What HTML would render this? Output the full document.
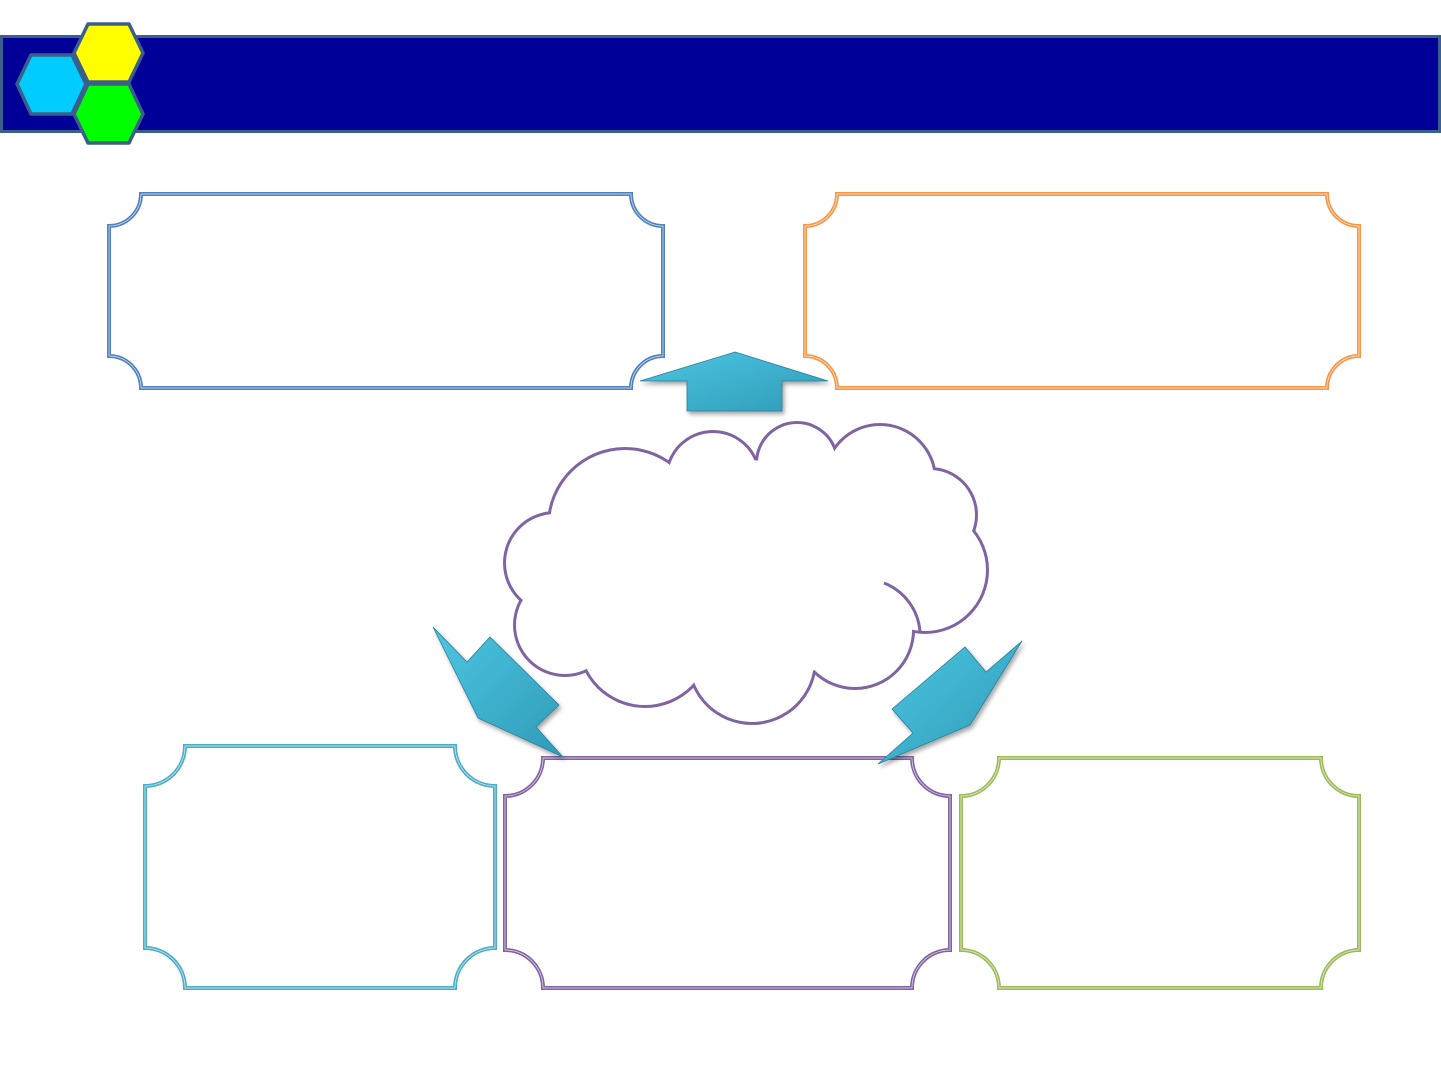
<!DOCTYPE html>
<html><head><meta charset="utf-8"><style>html,body{margin:0;padding:0;background:#fff}svg{display:block}</style></head>
<body>
<svg width="1441" height="1081" viewBox="0 0 1441 1081" xmlns="http://www.w3.org/2000/svg">
<defs>
<linearGradient id="ag" x1="0" y1="0" x2="1" y2="1">
<stop offset="0" stop-color="#4cc6e2"/><stop offset="1" stop-color="#2f9bb8"/></linearGradient>
<filter id="sh" x="-20%" y="-20%" width="140%" height="140%"><feDropShadow dx="2" dy="3" stdDeviation="2" flood-color="#000" flood-opacity="0.35"/></filter>
</defs>
<rect x="1.5" y="36.5" width="1438" height="95" fill="#000099" stroke="#3a5f8a" stroke-width="3"/>
<g stroke="#3a5f8a" stroke-width="3.5" stroke-linejoin="round">
<polygon points="31,55 72,55 86,84 72,114 31,114 17,84" fill="#00ccff"/>
<polygon points="88,24 129,24 143,53 129,82 88,82 74,53" fill="#ffff00"/>
<polygon points="88,84 129,84 143,114 129,143 88,143 74,114" fill="#00ff00"/>
</g>
<g fill="none" stroke-width="4">
<path d="M141,194 H631 A32,32 0 0 0 663,226 V356 A32,32 0 0 0 631,388 H141 A32,32 0 0 0 109,356 V226 A32,32 0 0 0 141,194 Z" stroke="#4f81bd"/>
<path d="M837,194 H1327 A32,32 0 0 0 1359,226 V356 A32,32 0 0 0 1327,388 H837 A32,32 0 0 0 805,356 V226 A32,32 0 0 0 837,194 Z" stroke="#f79646"/>
<path d="M185,746 H455 A40,40 0 0 0 495,786 V948 A40,40 0 0 0 455,988 H185 A40,40 0 0 0 145,948 V786 A40,40 0 0 0 185,746 Z" stroke="#4bacc6"/>
<path d="M543,758 H912 A38,38 0 0 0 950,796 V950 A38,38 0 0 0 912,988 H543 A38,38 0 0 0 505,950 V796 A38,38 0 0 0 543,758 Z" stroke="#8064a2"/>
<path d="M999,758 H1321 A38,38 0 0 0 1359,796 V950 A38,38 0 0 0 1321,988 H999 A38,38 0 0 0 961,950 V796 A38,38 0 0 0 999,758 Z" stroke="#9bbb59"/>
</g>
<g fill="none" stroke="#fff" stroke-width="0.7" opacity="0.8">
<path d="M141,194 H631 A32,32 0 0 0 663,226 V356 A32,32 0 0 0 631,388 H141 A32,32 0 0 0 109,356 V226 A32,32 0 0 0 141,194 Z"/>
<path d="M837,194 H1327 A32,32 0 0 0 1359,226 V356 A32,32 0 0 0 1327,388 H837 A32,32 0 0 0 805,356 V226 A32,32 0 0 0 837,194 Z"/>
<path d="M185,746 H455 A40,40 0 0 0 495,786 V948 A40,40 0 0 0 455,988 H185 A40,40 0 0 0 145,948 V786 A40,40 0 0 0 185,746 Z"/>
<path d="M543,758 H912 A38,38 0 0 0 950,796 V950 A38,38 0 0 0 912,988 H543 A38,38 0 0 0 505,950 V796 A38,38 0 0 0 543,758 Z"/>
<path d="M999,758 H1321 A38,38 0 0 0 1359,796 V950 A38,38 0 0 0 1321,988 H999 A38,38 0 0 0 961,950 V796 A38,38 0 0 0 999,758 Z"/>
</g>
<g fill="#8064a2">
<circle cx="625" cy="525" r="78"/><circle cx="713" cy="478" r="48"/><circle cx="797" cy="463" r="42"/>
<circle cx="880" cy="480" r="57"/><circle cx="930" cy="515" r="48"/><circle cx="925" cy="570" r="64"/>
<circle cx="855" cy="630" r="60"/><circle cx="752" cy="660" r="65"/><circle cx="645" cy="640" r="68"/>
<circle cx="565" cy="625" r="52"/><circle cx="555" cy="563" r="52"/>
</g>
<g fill="#fff">
<circle cx="625" cy="525" r="75"/><circle cx="713" cy="478" r="45"/><circle cx="797" cy="463" r="39"/>
<circle cx="880" cy="480" r="54"/><circle cx="930" cy="515" r="45"/><circle cx="925" cy="570" r="61"/>
<circle cx="855" cy="630" r="57"/><circle cx="752" cy="660" r="62"/><circle cx="645" cy="640" r="65"/>
<circle cx="565" cy="625" r="49"/><circle cx="555" cy="563" r="49"/>
<ellipse cx="740" cy="570" rx="180" ry="110"/>
</g>
<g fill="none" stroke="#8064a2" stroke-width="3">
<path d="M884,583 A57,57 0 0 1 920,632"/>
</g>
<g filter="url(#sh)" fill="url(#ag)" stroke="#2a7f99" stroke-width="0.8">
<polygon points="735,352 828,381 782,381 782,411 687,411 687,381 640,381"/>
<polygon points="433,627 467,662 490,637 559,705 536,727 563,757 478,718"/>
<polygon points="1022,641 986,672 965,647 892,709 913,733 878,764 970,725"/>
</g>
</svg>
</body></html>
